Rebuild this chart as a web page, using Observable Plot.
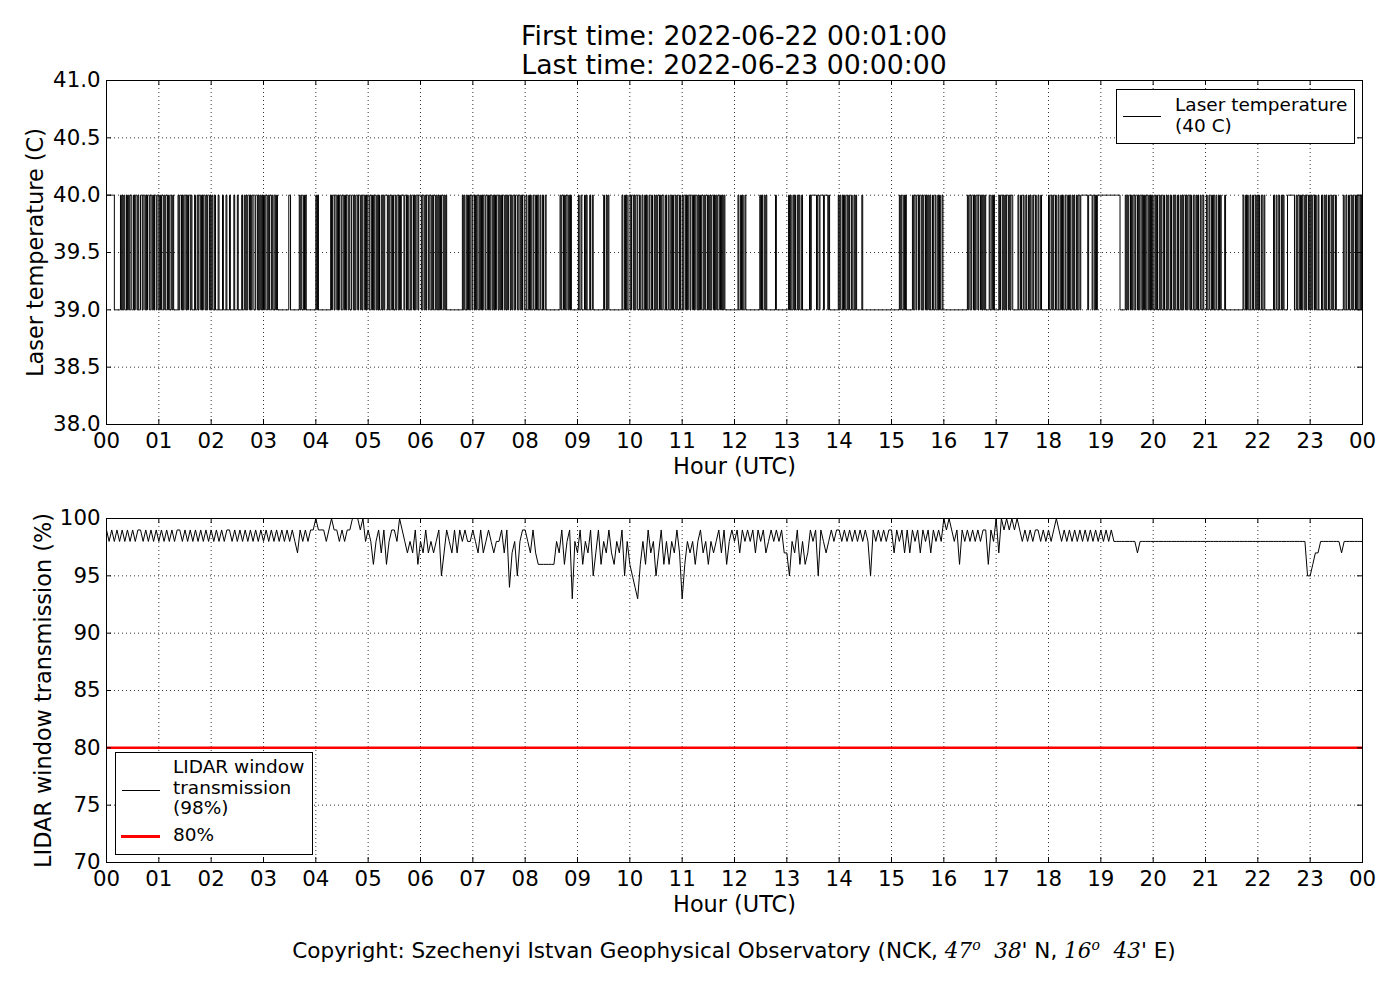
<!DOCTYPE html>
<html>
<head>
<meta charset="utf-8">
<script src="https://cdn.jsdelivr.net/npm/d3@7"></script>
<script src="https://cdn.jsdelivr.net/npm/@observablehq/plot@0.6"></script>
<style>
  body { margin: 0; background: white; font-family: "DejaVu Sans", sans-serif; }
  #wrap { position: relative; width: 1400px; height: 1000px; background: white; }
  .abs { position: absolute; }
  #title { left: 106px; width: 1256px; top: 21px; text-align: center; font-size: 26.7px; line-height: 29px; z-index: 2; }
  #caption { left: 56px; width: 1356px; top: 937px; text-align: center; font-size: 21.5px; z-index: 2; }
  .legend { background: white; border: 1px solid black; z-index: 3; font-size: 18.5px; line-height: 20.5px; }
  .legend .sw { position: absolute; height: 0; }
  .legend .tx { position: absolute; white-space: nowrap; }
  .m { font-family: "DejaVu Serif", serif; font-style: italic; }
  .m sup { font-size: 14px; }
</style>
</head>
<body>
<div id="wrap">
  <div id="title" class="abs">First time: 2022-06-22 00:01:00<br>Last time: 2022-06-23 00:00:00</div>
  <div id="top" class="abs" style="left:0;top:0"></div>
  <div id="bot" class="abs" style="left:0;top:490px"></div>
  <div class="abs legend" style="left:1116px;top:89px;width:237px;height:53px;">
    <div class="sw" style="left:6px;top:26px;width:38px;border-top:1px solid black;"></div>
    <div class="tx" style="left:58px;top:5px;">Laser temperature<br>(40 C)</div>
  </div>
  <div class="abs legend" style="left:115px;top:752px;width:196px;height:101px;">
    <div class="sw" style="left:6px;top:37px;width:38px;border-top:1px solid black;"></div>
    <div class="tx" style="left:57px;top:4px;">LIDAR window<br>transmission<br>(98%)</div>
    <div class="sw" style="left:5px;top:82px;width:39px;border-top:3px solid red;"></div>
    <div class="tx" style="left:57px;top:72px;">80%</div>
  </div>
  <div id="caption" class="abs">Copyright: Szechenyi Istvan Geophysical Observatory (NCK, <span class="m">47<sup>o</sup></span>&nbsp; <span class="m">38</span>' N, <span class="m">16<sup>o</sup></span>&nbsp; <span class="m">43</span>' E)</div>
</div>
<script>
// Laser temperature: one string per hour, 1-minute steps, '1' = 40 C, '0' = 39 C
const laserHours = [
  "111111111000000010101001010110010110100110110101101101011011",
  "010110101101001010000010110101101011010001001011010110101101",
  "010010001000010001000100001000100001001010110101100110101010",
  "101101011010010100000000000001100000000001010010100000000000",
  "101000000000000001011011010110110101101001101011011010110101",
  "101101011010100101011101011010010110101110110100101101011011",
  "101101011011010110101010110101000000000000000000101001010110",
  "110101101010110110101101010110101011010101101011011011010110",
  "010010100100101001001001000000000000000010110101101010000000",
  "010010001010001001000000000000100101000000000000000100101001",
  "101101011001001001010010010010101101011001001001010010100100",
  "101101011011010110101011010110101011010101101010100000000000",
  "000010010100100000000000000001010010100000000001000000000000",
  "001010010100101001000000001011111101101111011110100000000001",
  "010010100101001001010000001000000000000000000000000000000000",
  "000000000101001010000000101101101101011010101001001001010010",
  "000000000000000000000000000101101101011011010101000010010100",
  "000101101010110101100000010010010010010100100100100100000000",
  "100101001001001010010010100101001011011111111011110110101111",
  "111111111111111111111100000010101101011011010110101011010101",
  "001010010100100101001001010010010101101011010010010100100100",
  "010010010100100101000010000000000000000000010010100100100101",
  "010010010000000000100100100101000011111111001011010110101101",
  "010110100100010010100100101001000000001001001001010010100101"
];
// LIDAR window transmission: one string per hour, 3-minute steps, digit = last digit of % ('0' = 100)
const lidarHours = [
  "98989898989899898989",
  "89898989989898989898",
  "98989899898989898989",
  "89898989898987989899",
  "09998909989899000908",
  "98689796899809878796",
  "87978789579879798988",
  "98797898788979478589",
  "98797666666687968938",
  "79687957968797687958",
  "65436869785796868797",
  "36878689786878979689",
  "89798989798978989897",
  "75879686798959878989",
  "98989898989859898989",
  "97989797989798979898",
  "09098969898989899698",
  "07090909098989899898",
  "98909898989898989898",
  "98989888888888788888",
  "88888888888888888888",
  "88888888888888888888",
  "88888888888888888885",
  "56778888888878888888"
];
const xTicks = d3.range(0, 25);
const xTickFmt = d => String(d % 24).padStart(2, "0");
const laserTicks = [38.0, 38.5, 39.0, 39.5, 40.0, 40.5, 41.0];
const lidarTicks = [70, 75, 80, 85, 90, 95, 100];
const thresholdValue = 80;

const laserData = [];
laserHours.forEach((s, h) => { for (let i = 0; i < s.length; i++) laserData.push({t: h + i / s.length, v: s[i] === "1" ? 40 : 39}); });
laserData.push({t: 24, v: laserData[laserData.length - 1].v});

const lidarData = [];
lidarHours.forEach((s, h) => { for (let i = 0; i < s.length; i++) { const c = +s[i]; lidarData.push({t: h + i / s.length, v: c === 0 ? 100 : 90 + c}); } });
lidarData.push({t: 24, v: 98});

const W = 1400, ML = 106, MR = 38;
const fs = 21.3;

function panel({data, yDomain, yTicks, yFmt, yLabel, labelDx, height, mt, mb, extra, curve}) {
  const ph = height - mt - mb, pw = W - ML - MR;
  return Plot.plot({
    width: W, height, marginLeft: ML, marginRight: MR, marginTop: mt, marginBottom: mb,
    style: {background: "transparent", fontFamily: "DejaVu Sans, sans-serif", overflow: "visible"},
    x: {domain: [0, 24]},
    y: {domain: yDomain},
    marks: [
      Plot.gridX(xTicks, {stroke: "black", strokeOpacity: 1, strokeWidth: 0.8, strokeDasharray: "1,3"}),
      Plot.gridY(yTicks, {stroke: "black", strokeOpacity: 1, strokeWidth: 0.8, strokeDasharray: "1,3"}),
      ...(extra || []),
      Plot.line(data, {x: "t", y: "v", curve, stroke: "black", strokeWidth: 1}),
      Plot.tickX(xTicks, {x: d => d, insetTop: ph - 5, stroke: "black"}),
      Plot.tickX(xTicks, {x: d => d, insetBottom: ph - 5, stroke: "black"}),
      Plot.tickY(yTicks, {y: d => d, insetRight: pw - 5, stroke: "black"}),
      Plot.tickY(yTicks, {y: d => d, insetLeft: pw - 5, stroke: "black"}),
      Plot.axisX(xTicks, {tickFormat: xTickFmt, tickSize: 0, tickPadding: 8, fontSize: fs, label: null, fill: "black"}),
      Plot.axisY(yTicks, {tickFormat: yFmt, tickSize: 0, tickPadding: 6, fontSize: fs, label: null, fill: "black"}),
      Plot.text(["Hour (UTC)"], {frameAnchor: "bottom", lineAnchor: "middle", dy: 42, fontSize: 22.4, fill: "black"}),
      Plot.text([yLabel], {frameAnchor: "left", textAnchor: "middle", lineAnchor: "middle", dx: labelDx, rotate: -90, fontSize: 22.4, fill: "black"}),
      Plot.frame({stroke: "black", strokeWidth: 1})
    ]
  });
}

document.getElementById("top").append(panel({
  data: laserData, yDomain: [38, 41], yTicks: laserTicks, yFmt: d => d.toFixed(1),
  yLabel: "Laser temperature (C)", labelDx: -71, height: 490, mt: 80, mb: 66, curve: "step-after"
}));

document.getElementById("bot").append(panel({
  data: lidarData, yDomain: [70, 100], yTicks: lidarTicks, yFmt: d => String(d),
  yLabel: "LIDAR window transmission (%)", labelDx: -63, height: 440, mt: 28, mb: 68, curve: "linear",
  extra: [Plot.ruleY([thresholdValue], {stroke: "red", strokeWidth: 2.5})]
}));
</script>
</body>
</html>
